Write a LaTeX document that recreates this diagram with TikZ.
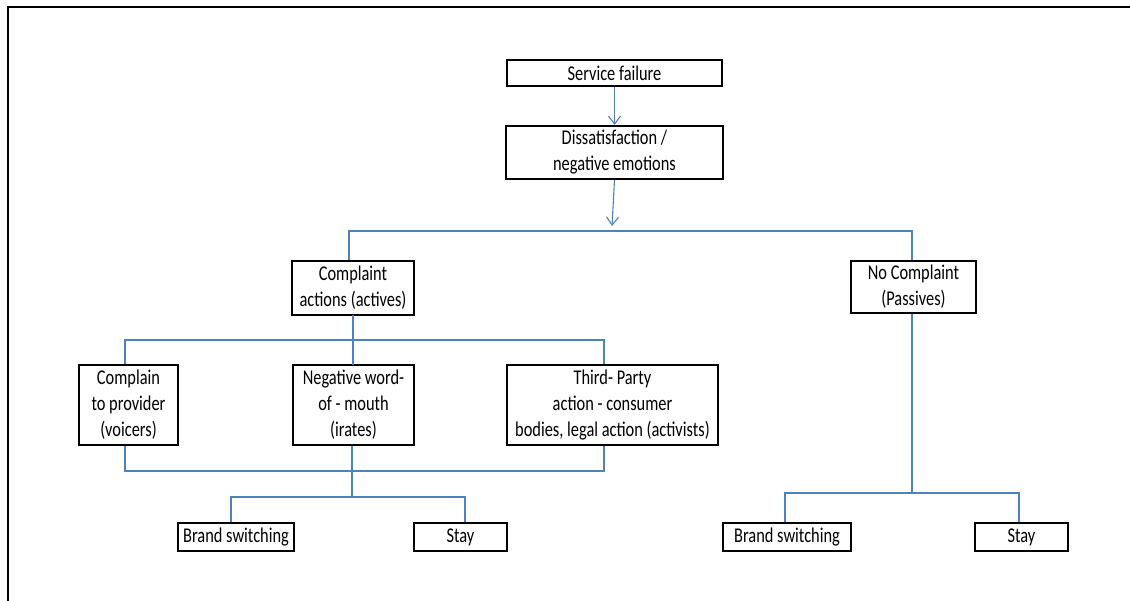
\documentclass[tikz,border=0pt]{standalone}
\usepackage{fontspec}
\setmainfont{Carlito}[FakeStretch=0.78]
\usetikzlibrary{arrows.meta}
\definecolor{linkblue}{HTML}{4F81BD}
\tikzset{
  box/.style={draw=black, line width=2pt, rectangle, inner sep=0pt, align=center,
    font=\fontsize{21}{26}\selectfont},
  link/.style={draw=linkblue, line width=1.1pt},
  arr/.style={link, -{Straight Barb[length=8pt,width=12pt,line width=1.1pt]}},
  frame/.style={draw=black, line width=2.5pt}
}
\begin{document}
\begin{tikzpicture}[x=1pt,y=-1pt]
\useasboundingbox (0,0) rectangle (1130,601);
% outer frame (clipped by the page)
\coordinate (fbl) at (8,603);
\coordinate (ftl) at (8,7);
\coordinate (ftr) at (1132,7);
\draw[frame] (fbl) -- (ftl) -- (ftr);

% nodes
\node[box, minimum width=215pt, minimum height=26pt] (sf) at (614.5,73) {Service failure};
\node[box, minimum width=217pt, minimum height=53pt] (dis) at (614.5,152.5) {Dissatisfaction /\\negative emotions};
\node[box, minimum width=122pt, minimum height=54pt] (ca) at (353,288) {Complaint\\actions (actives)};
\node[box, minimum width=125pt, minimum height=52pt] (nc) at (913.5,287) {No Complaint\\(Passives)};
\node[box, minimum width=99pt, minimum height=80pt] (cp) at (128.5,405) {Complain\\to provider\\(voicers)};
\node[box, minimum width=121pt, minimum height=80pt] (nw) at (353.5,405) {Negative word-\\of - mouth\\(irates)};
\node[box, minimum width=211pt, minimum height=80pt] (tp) at (612.5,405) {Third- Party\\action - consumer\\bodies, legal action (activists)};
\node[box, minimum width=116pt, minimum height=28pt] (bs1) at (236,537) {Brand switching};
\node[box, minimum width=93pt, minimum height=28pt] (st1) at (460.5,537) {Stay};
\node[box, minimum width=128pt, minimum height=28pt] (bs2) at (787,537) {Brand switching};
\node[box, minimum width=93pt, minimum height=28pt] (st2) at (1021.5,537) {Stay};

% arrows at top
\draw[arr] (sf.south) -- (dis.north);
\coordinate (split) at (612,226);
\draw[arr] (dis.south) -- (split);

% first split
\coordinate (s1l) at (349,231);
\coordinate (s1r) at (912,231);
\draw[link] (s1l |- ca.north) -- (s1l) -- (s1r) -- (s1r |- nc.north);

% complaint branch
\coordinate (cb) at (353,315);
\coordinate (nt) at (353,365);
\draw[link] (cb) -- (nt);
\coordinate (s2l) at (125,340);
\coordinate (s2r) at (604,340);
\draw[link] (s2l |- cp.north) -- (s2l) -- (s2r) -- (s2r |- tp.north);

% merge below
\coordinate (m1) at (125,471);
\coordinate (m2) at (604,471);
\coordinate (mc) at (352,471);
\draw[link] (cp.south -| m1) -- (m1) -- (m2) -- (tp.south -| m2);
\draw[link] (nw.south -| mc) -- (mc);

% left outcome split
\coordinate (j1) at (352,497);
\coordinate (o1l) at (231,497);
\coordinate (o1r) at (465,497);
\draw[link] (mc) -- (j1);
\draw[link] (o1l |- bs1.north) -- (o1l) -- (o1r) -- (o1r |- st1.north);

% right outcome split
\coordinate (j2) at (912,493);
\coordinate (o2l) at (785,493);
\coordinate (o2r) at (1019,493);
\draw[link] (nc.south -| j2) -- (j2);
\draw[link] (o2l |- bs2.north) -- (o2l) -- (o2r) -- (o2r |- st2.north);
\end{tikzpicture}
\end{document}
